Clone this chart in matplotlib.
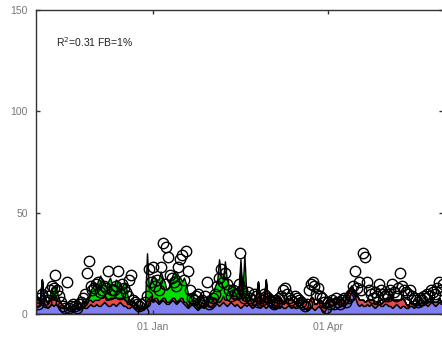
import numpy as np
import pandas as pd
import matplotlib
matplotlib.use('Agg')
import matplotlib.pyplot as plt
import matplotlib.dates as mdates

plt.rcParams['font.family'] = ['Liberation Sans', 'DejaVu Sans']

# daily contributions (stacked) and observed values, from 02 Nov
start = '2012-11-02'
blue = [4, 4, 5, 17, 6, 4, 3, 4, 5, 4,
        5, 4, 4, 3, 3, 3, 2, 3, 3, 3,
        3, 3, 2, 3, 4, 3, 3, 4, 5, 4,
        4, 5, 4, 4, 5, 6, 5, 4, 4, 5,
        5, 4, 5, 6, 5, 4, 4, 3, 3, 4,
        4, 3, 3, 2, 3, 2, 3, 4, 6, 7,
        6, 7, 6, 5, 6, 7, 6, 5, 5, 6,
        7, 6, 5, 6, 7, 6, 5, 4, 3, 4,
        5, 4, 3, 2, 3, 4, 3, 4, 5, 4,
        4, 5, 6, 5, 4, 5, 6, 5, 4, 5,
        6, 5, 4, 5, 4, 3, 4, 5, 4, 5,
        4, 3, 4, 5, 4, 3, 4, 4, 3, 4,
        9, 4, 3, 3, 4, 3, 4, 3, 3, 4,
        4, 3, 4, 3, 3, 4, 5, 4, 3, 2,
        3, 4, 3, 2, 3, 4, 3, 2, 1, 3,
        4, 5, 4, 5, 6, 5, 4, 5, 4, 5,
        6, 9, 11, 10, 8, 5, 4, 5, 4, 4,
        5, 4, 5, 4, 3, 4, 5, 4, 4, 5,
        5, 4, 4, 3, 4, 5, 4, 3, 4, 4,
        3, 3, 4, 4, 3, 4, 5, 4, 4, 5,
        5, 4, 5, 6, 5, 4, 5, 6, 5, 5]
red = [4, 3, 2, 0, 2, 3, 2, 3, 4, 3,
       4, 3, 2, 2, 1, 1, 1, 1, 1, 1,
       1, 2, 1, 1, 2, 1, 2, 3, 2, 2,
       3, 2, 3, 4, 3, 3, 2, 3, 4, 3,
       3, 4, 3, 2, 3, 4, 3, 2, 2, 1,
       2, 2, 1, 1, 1, 1, 2, 3, 2, 2,
       1, 1, 2, 1, 1, 1, 2, 1, 1, 1,
       1, 2, 1, 1, 1, 2, 1, 2, 1, 2,
       2, 1, 2, 1, 1, 2, 2, 1, 2, 2,
       2, 3, 2, 1, 2, 2, 3, 2, 3, 2,
       3, 4, 5, 4, 3, 20, 3, 4, 3, 2,
       3, 2, 3, 4, 12, 2, 3, 2, 14, 2,
       1, 2, 3, 4, 5, 4, 3, 2, 3, 4,
       3, 4, 3, 2, 3, 4, 3, 2, 3, 4,
       3, 4, 5, 3, 2, 3, 4, 3, 2, 3,
       2, 3, 2, 3, 2, 3, 2, 3, 2, 3,
       4, 3, 3, 2, 3, 4, 3, 2, 3, 2,
       2, 3, 2, 3, 2, 1, 2, 1, 2, 2,
       3, 4, 5, 4, 3, 2, 3, 4, 4, 3,
       2, 1, 2, 1, 2, 1, 2, 1, 2, 1,
       1, 2, 1, 2, 1, 2, 1, 2, 1, 1]
green = [0, 0, 0, 0, 0, 0, 1, 2, 4, 6,
         5, 3, 1, 0, 0, 0, 0, 0, 0, 0,
         0, 0, 0, 0, 1, 2, 3, 2, 5, 7,
         8, 7, 10, 11, 8, 7, 6, 9, 10, 7,
         6, 9, 8, 6, 5, 7, 8, 4, 2, 1,
         1, 0, 1, 0, 0, 0, 1, 23, 4, 8,
         12, 10, 9, 11, 14, 10, 8, 6, 7, 9,
         11, 13, 15, 12, 10, 8, 12, 9, 6, 4,
         3, 2, 1, 2, 2, 3, 2, 1, 2, 3,
         4, 3, 6, 10, 21, 12, 8, 19, 10, 7,
         5, 6, 4, 3, 5, 4, 3, 20, 3, 2,
         1, 2, 1, 1, 0, 1, 0, 1, 0, 0,
         0, 0, 1, 0, 0, 0, 0, 0, 1, 0,
         0, 0, 0, 1, 0, 0, 0, 0, 0, 0,
         0, 0, 0, 0, 0, 0, 0, 0, 0, 0,
         0, 0, 0, 0, 0, 0, 0, 0, 0, 0,
         0, 1, 0, 0, 0, 0, 0, 0, 0, 0,
         0, 0, 0, 0, 0, 0, 0, 0, 0, 0,
         0, 0, 0, 0, 0, 0, 0, 0, 0, 0,
         0, 0, 0, 0, 0, 0, 0, 0, 0, 0,
         0, 0, 0, 0, 0, 0, 0, 0, 0, 0]
obs = [6, 5, 8, 10, 7, 6, 9, 12, 14, 13,
       19, 12, 9, 6, 4, 3, 16, 3, 4, 5,
       4, 3, 5, 6, 8, 10, 20, 26, 14, 12,
       13, 15, 16, 11, 12, 14, 13, 21, 10, 12,
       12, 14, 21, 10, 15, 13, 11, 9, 17, 19,
       7, 6, 5, 4, 5, 1, 6, 9, 22, 16,
       23, 14, 17, 12, 23, 35, 15, 33, 28, 19,
       18, 16, 14, 23, 27, 29, 17, 31, 21, 12,
       8, 7, 9, 10, 6, 7, 6, 9, 16, 5,
       6, 8, 10, 14, 18, 22, 16, 20, 15, 12,
       9, 12, 10, 10, 15, 30, 12, 8, 9, 11,
       8, 7, 10, 9, 6, 8, 7, 10, 9, 8,
       7, 6, 5, 7, 6, 8, 9, 12, 13, 10,
       8, 7, 6, 9, 8, 7, 6, 5, 4, 5,
       12, 15, 16, 14, 10, 13, 9, 8, 6, 3,
       6, 5, 7, 5, 8, 6, 5, 7, 8, 6,
       8, 9, 10, 14, 21, 13, 16, 12, 30, 28,
       16, 12, 10, 8, 11, 9, 15, 12, 10, 9,
       10, 9, 12, 15, 11, 9, 13, 20, 14, 12,
       11, 10, 12, 9, 8, 7, 6, 8, 7, 9,
       8, 10, 9, 12, 11, 10, 13, 16, 12, 15]
label = 'R$^2$=0.31 FB=1%'

days = pd.date_range(start, periods=len(obs), freq='D')

fig = plt.figure(figsize=(4.42, 3.37), dpi=100)
ax = fig.add_axes([36 / 442, 23 / 337, 407 / 442, 304 / 337])

# stacked source contributions, black outlines
ax.stackplot(days, blue, red, green,
             colors=['#7F7FEF', '#E84848', '#00DD00'],
             edgecolor='black', linewidth=1.0)
# measured values as open circles
ax.plot(days, obs, 'o', mfc='none', mec='black', ms=7.5, mew=1)

ax.set_ylim(0, 150)
ax.set_yticks([0, 50, 100, 150])
ax.set_xlim(days[0], days[-1])
ax.set_xticks(pd.to_datetime(['2013-01-01', '2013-04-01']))
ax.xaxis.set_major_formatter(mdates.DateFormatter('%d %b'))

ax.tick_params(direction='in', length=3, width=1, colors='#333333',
               labelcolor='#777777', labelsize=7.5,
               top=True, right=True, pad=6)
for s in ax.spines.values():
    s.set_color('#333333')
    s.set_linewidth(1)

ax.text(0.049, 0.895, label, transform=ax.transAxes, fontsize=7.5,
        color='#222222', va='center')

fig.savefig('out.png', dpi=100)
